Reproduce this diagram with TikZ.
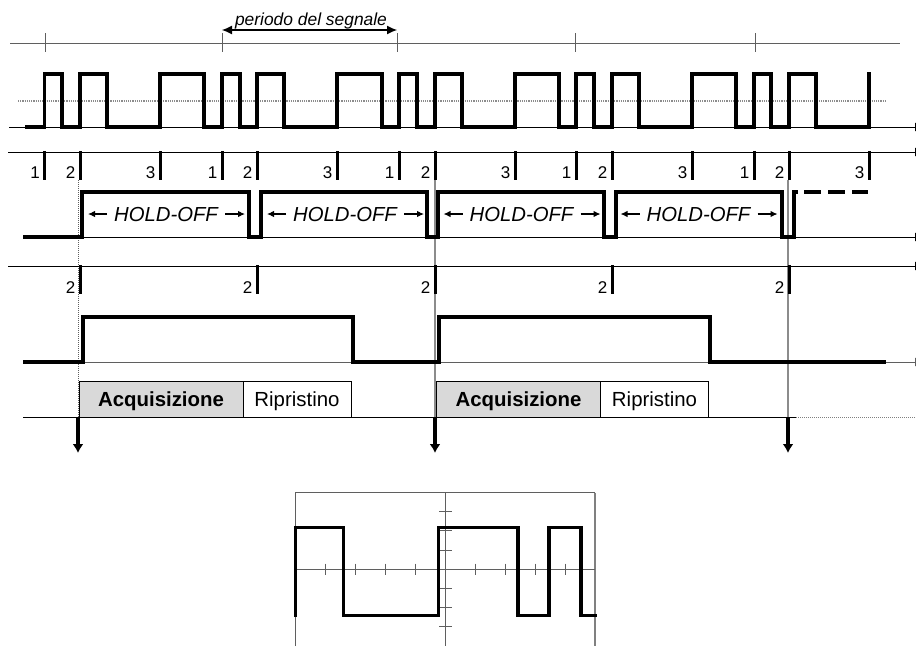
\documentclass[tikz,border=0pt]{standalone}
\usepackage{fontspec}
\setmainfont{Liberation Sans}
\usepackage{xcolor}
\definecolor{axisgray}{RGB}{95,95,95}
\definecolor{acqgray}{RGB}{217,217,217}
\usetikzlibrary{arrows.meta, positioning}
\tikzset{
  signal/.style={line width=3.1pt, color=black},
  axis/.style={line width=1pt, color=axisgray},
  axisarrow/.style={line width=1pt, color=black, -{Latex[length=10pt,width=9pt]}},
  pulsetick/.style={line width=3pt, color=black},
  thintick/.style={line width=1pt, color=axisgray},
  guide/.style={line width=1.2pt, color=gray!90},
  ticklabel/.style={anchor=base east, inner sep=0pt, font=\fontsize{17pt}{17pt}\selectfont},
  holdtext/.style={anchor=base, inner sep=0pt, font=\fontsize{20.3pt}{20.3pt}\selectfont\itshape},
  holdarrow/.style={line width=1.1pt, -{Latex[length=7pt,width=6.5pt]}},
  trigger/.style={line width=3.2pt, -{Latex[length=9pt,width=11pt]}},
  acqbox/.style={
    rectangle, draw=black, line width=0.9pt, fill=acqgray, inner sep=0pt, outer sep=0pt,
    minimum width=164pt, minimum height=36pt, text height=15.4pt, text depth=0pt,
    font=\fontsize{20.4pt}{20.4pt}\selectfont\bfseries
  },
  ripbox/.style={
    rectangle, draw=black, line width=0.9pt, fill=white, inner sep=0pt, outer sep=0pt,
    minimum width=108pt, minimum height=36pt, text height=15.4pt, text depth=0pt,
    font=\fontsize{20.4pt}{20.4pt}\selectfont
  },
}
\begin{document}
\begin{tikzpicture}[x=1pt, y=-1pt]
  \clip (0,0) rectangle (916,646);

  % periodo
  \draw [axis] (10,43) -- (900,43);
  \foreach \x in {45,222,397,575,755}
    \draw [thintick] (\x,33) -- (\x,52);
  \draw [line width=1.1pt, {Latex[length=10pt,width=9pt]}-{Latex[length=10pt,width=9pt]}] (222,30) -- (397,30);
  \node (periodo) [holdtext, font=\fontsize{17.4pt}{17.4pt}\selectfont\itshape] at (311,25) {periodo del segnale};

  % segnale
  \draw [guide, densely dotted] (18,101) -- (887,101);
  \draw [axisarrow] (9,127) -- (925,127);
  \draw [signal] (25,127) -| (44.5,74) -| (62,127) -| (80,74) -| (107,127) -| (160,74) -| (204,127)
    -| (222,74) -| (240,127) -| (257,74) -| (284,127) -| (337,74) -| (382,127)
    -| (399,74) -| (417,127) -| (435,74) -| (462,127) -| (515,74) -| (559,127)
    -| (576,74) -| (594,127) -| (612,74) -| (639,127) -| (692,74) -| (736,127)
    -| (754,74) -| (771,127) -| (789,74) -| (816,127) -| (869,72);

  % impulsi
  \draw [axisarrow] (8,152) -- (925,152);
  \foreach \x/\n in {44.5/1,80/2,160/3,222/1,257/2,337/3,399/1,435/2,515/3,576/1,612/2,692/3,754/1,789/2,869/3} {
    \draw [pulsetick] (\x,151) -- (\x,180);
    \node (p\x) [ticklabel] at (\x-4.5,178.5) {\n};
  }

  % guide verticali
  \draw [line width=1pt, color=axisgray, densely dotted] (78.5,180) -- (78.5,417);
  \draw [guide] (435,180) -- (435,417);
  \draw [guide] (788,180) -- (788,417);

  % hold-off
  \draw [axisarrow] (23,237) -- (925,237);
  \draw [signal] (23,237) -| (82,192) -| (249,237) -| (261,192) -| (427,237) -| (438,192)
    -| (604,237) -| (616,192) -| (782,237) -| (794,192) -- (798,192);
  \draw [signal, dash pattern=on 17pt off 7pt] (804,192) -- (868,192);
  \foreach \x/\n in {166/a,345/b,521.5/c,698.5/d} {
    \node (hold\n) [holdtext] at (\x,221.5) {HOLD-OFF};
    \draw [holdarrow] (\x-59,214) -- (\x-78,214);
    \draw [holdarrow] (\x+59,214) -- (\x+79,214);
  }

  % trigger
  \draw [axisarrow] (8,266) -- (925,266);
  \foreach \x in {80,257,435,612,789} {
    \draw [pulsetick] (\x,265) -- (\x,294);
    \node (t\x) [ticklabel] at (\x-4.5,293) {2};
  }

  % acquisizione
  \draw [axisarrow, color=axisgray] (23,362) -- (925,362);
  \draw [signal] (23,362) -| (83,317) -| (353,362) -| (439,317) -| (710,362) -- (886,362);

  \draw [line width=1pt] (23,417) -- (796,417);
  \draw [line width=1pt, color=gray, densely dotted] (796,417) -- (916,417);
  \node (acq1) [acqbox] at (161,399) {Acquisizione};
  \node (rip1) [ripbox, right=0pt of acq1] {Ripristino};
  \node (acq2) [acqbox] at (518.5,399) {Acquisizione};
  \node (rip2) [ripbox, right=0pt of acq2] {Ripristino};

  \foreach \x in {78,435,788}
    \draw [trigger] (\x,417) -- (\x,453);

  % oscilloscopio
  \draw [axis] (295.5,646) -- (295.5,492.5) -- (595,492.5);
  \draw [line width=1.2pt, color=gray] (595,492.5) -- (595,646);
  \draw [axis] (445.5,492.5) -- (445.5,646);
  \draw [axis] (295.5,569) -- (595,569);
  \foreach \x in {325.7,355.3,385.3,415.3,475.3,505,535,565}
    \draw [thintick] (\x,563.5) -- (\x,574.5);
  \foreach \y in {511.7,530.7,550,588.3,607.3,626.7}
    \draw [thintick] (439,\y) -- (452,\y);
  \draw [signal, line width=3.5pt] (295.5,617) |- (343.3,527.7) |- (438.3,615.7) |- (518,527.7)
    |- (549,615.7) |- (581,527.7) |- (597,615.7);
\end{tikzpicture}
\end{document}
